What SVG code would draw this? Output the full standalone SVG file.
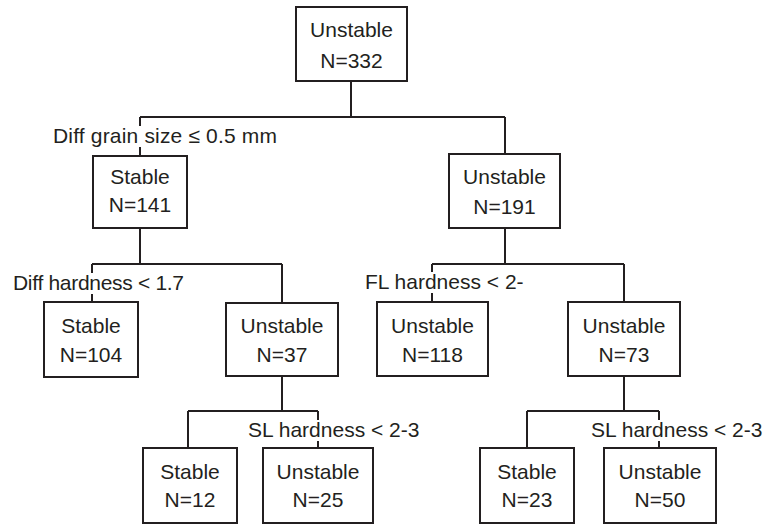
<svg xmlns="http://www.w3.org/2000/svg" width="766" height="524" viewBox="0 0 766 524">
<style>
.box{fill:#fff;stroke:#231f20;stroke-width:2}
.t{font-family:"Liberation Sans",Arial,Helvetica,sans-serif;font-size:21px;fill:#231f20;text-anchor:middle}
.lbl{font-family:"Liberation Sans",Arial,Helvetica,sans-serif;font-size:21px;fill:#231f20}
.bg{fill:#fff}
.c{fill:none;stroke:#231f20;stroke-width:2}
</style>
<rect width="766" height="524" fill="#fff"/>
<g id="connectors">
<path class="c" d="M351,81V117M140,117H505M140,117V156M505,117V154"/>
<path class="c" d="M140,228V264M92,264H282M92,264V302M282,264V303"/>
<path class="c" d="M505,228V264M432,264H624M432,264V302M624,264V302"/>
<path class="c" d="M282,376V411M188,411H318M188,411V448M318,411V448"/>
<path class="c" d="M624,376V411M527,411H659M527,411V448M659,411V448"/>
</g>
<g id="labels">
<rect class="bg" x="51" y="126" width="228" height="21"/>
<text class="lbl" x="53" y="143" textLength="224" lengthAdjust="spacing">Diff grain size ≤ 0.5 mm</text>
<rect class="bg" x="11" y="273" width="176" height="21"/>
<text class="lbl" x="13" y="290" textLength="171" lengthAdjust="spacing">Diff hardness &lt; 1.7</text>
<rect class="bg" x="363" y="272" width="150" height="21"/>
<text class="lbl" x="365" y="289">FL hardness &lt; 2-</text>
<rect class="bg" x="246" y="420" width="176" height="21"/>
<text class="lbl" x="248" y="437">SL hardness &lt; 2-3</text>
<rect class="bg" x="589" y="420" width="176" height="21"/>
<text class="lbl" x="591" y="437">SL hardness &lt; 2-3</text>
</g>
<g id="n332"><rect class="box" x="296" y="7" width="111" height="74"/><text class="t" x="351.5" y="37">Unstable</text><text class="t" x="351.5" y="68">N=332</text></g>
<g id="n141"><rect class="box" x="93" y="156" width="94" height="72"/><text class="t" x="140" y="184">Stable</text><text class="t" x="140" y="212">N=141</text></g>
<g id="n191"><rect class="box" x="449" y="154" width="111" height="74"/><text class="t" x="504.5" y="184">Unstable</text><text class="t" x="504.5" y="214">N=191</text></g>
<g id="n104"><rect class="box" x="44" y="302" width="94" height="75"/><text class="t" x="91" y="333">Stable</text><text class="t" x="91" y="362">N=104</text></g>
<g id="n37"><rect class="box" x="226" y="303" width="112" height="73"/><text class="t" x="282" y="333">Unstable</text><text class="t" x="282" y="362">N=37</text></g>
<g id="n118"><rect class="box" x="377" y="302" width="111" height="74"/><text class="t" x="432.5" y="333">Unstable</text><text class="t" x="432.5" y="362">N=118</text></g>
<g id="n73"><rect class="box" x="568" y="302" width="112" height="74"/><text class="t" x="624" y="333">Unstable</text><text class="t" x="624" y="362">N=73</text></g>
<g id="n12"><rect class="box" x="143" y="448" width="94" height="75"/><text class="t" x="190" y="479">Stable</text><text class="t" x="190" y="507">N=12</text></g>
<g id="n25"><rect class="box" x="263" y="448" width="110" height="75"/><text class="t" x="318" y="479">Unstable</text><text class="t" x="318" y="507">N=25</text></g>
<g id="n23"><rect class="box" x="480" y="448" width="94" height="75"/><text class="t" x="527" y="479">Stable</text><text class="t" x="527" y="507">N=23</text></g>
<g id="n50"><rect class="box" x="604" y="448" width="112" height="75"/><text class="t" x="660" y="479">Unstable</text><text class="t" x="660" y="507">N=50</text></g>
</svg>
